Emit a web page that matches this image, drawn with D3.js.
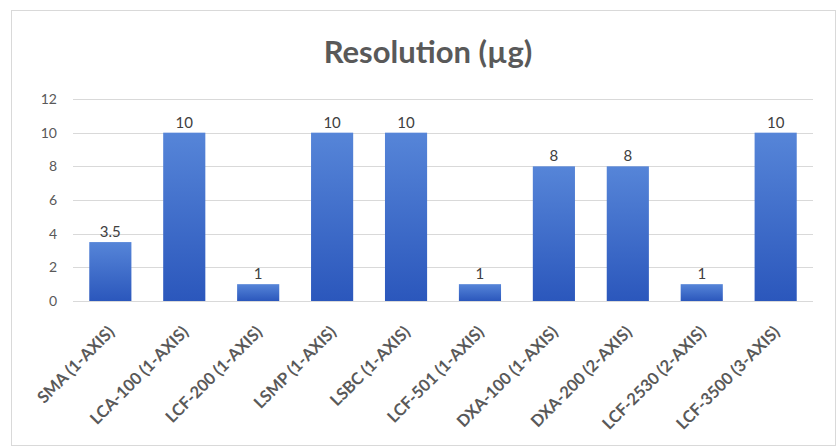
<!DOCTYPE html>
<html>
<head>
<meta charset="utf-8">
<script src="https://cdnjs.cloudflare.com/ajax/libs/d3/7.8.5/d3.min.js"></script>
<style>
  body { margin: 0; background: #fff; }
  #vis { width: 837px; height: 448px; }
  .axis text { fill: #595959; font-family: Lato, "Open Sans", sans-serif; }
</style>
</head>
<body>
<div id="vis"></div>
<script>
var categories = ['SMA (1-AXIS)', 'LCA-100 (1-AXIS)', 'LCF-200 (1-AXIS)', 'LSMP (1-AXIS)', 'LSBC (1-AXIS)',
    'LCF-501 (1-AXIS)', 'DXA-100 (1-AXIS)', 'DXA-200 (2-AXIS)', 'LCF-2530 (2-AXIS)', 'LCF-3500 (3-AXIS)'];
var values = [3.5, 10, 1, 10, 10, 1, 8, 8, 1, 10];
var y_ticks = [0, 2, 4, 6, 8, 10, 12];

var width = 837, height = 448;
var margin = { top: 99, bottom: 147, left: 73, right: 24 };

var svg = d3.select('#vis')
    .append('svg')
    .attr('width', width)
    .attr('height', height);

// chart frame
svg.append('rect')
    .attr('x', 11.5).attr('y', 10.5)
    .attr('width', 824).attr('height', 435)
    .attr('fill', '#fff')
    .attr('stroke', '#d9d9d9');

var grad = svg.append('defs').append('linearGradient')
    .attr('id', 'barfill')
    .attr('x1', 0).attr('y1', 0).attr('x2', 0).attr('y2', 1);
grad.append('stop').attr('offset', '0%').attr('stop-color', '#5685d8');
grad.append('stop').attr('offset', '100%').attr('stop-color', '#2b57bc');

svg.append('text')
    .attr('x', 428)
    .attr('y', 63)
    .attr('text-anchor', 'middle')
    .attr('fill', '#595959')
    .style('font-family', 'Lato, "Open Sans", sans-serif')
    .style('font-size', '31px')
    .style('font-weight', 'bold')
    .text('Resolution (µg)');

var pw = width - margin.left - margin.right;
var ph = height - margin.top - margin.bottom;

var g = svg.append('g')
    .attr('transform', 'translate(' + margin.left + ',' + margin.top + ')');

var x_scale = d3.scaleBand()
    .domain(categories)
    .range([0, pw])
    .paddingInner(0.43)
    .paddingOuter(0.22);

var y_scale = d3.scaleLinear()
    .domain([0, 12])
    .range([ph, 0]);

// gridlines
g.selectAll('.grid')
    .data(y_ticks)
    .enter()
    .append('line')
    .attr('class', 'grid')
    .attr('x1', 0).attr('x2', pw)
    .attr('y1', function (d) { return Math.round(y_scale(d)) + 0.5; })
    .attr('y2', function (d) { return Math.round(y_scale(d)) + 0.5; })
    .attr('stroke', '#d9d9d9');

var y_axis = d3.axisLeft(y_scale).tickValues(y_ticks).tickSize(0).tickPadding(16);
g.append('g')
    .attr('class', 'y axis')
    .call(y_axis)
    .call(function (s) { s.select('.domain').remove(); })
    .selectAll('text')
    .style('font-size', '14px');

g.selectAll('.bar')
    .data(values)
    .enter()
    .append('rect')
    .attr('class', 'bar')
    .attr('x', function (d, i) { return x_scale(categories[i]); })
    .attr('width', x_scale.bandwidth())
    .attr('y', function (d) { return y_scale(d); })
    .attr('height', function (d) { return ph - y_scale(d); })
    .attr('fill', 'url(#barfill)');

g.selectAll('.label')
    .data(values)
    .enter()
    .append('text')
    .attr('class', 'label')
    .attr('x', function (d, i) { return x_scale(categories[i]) + x_scale.bandwidth() / 2; })
    .attr('y', function (d) { return y_scale(d) - 5; })
    .attr('text-anchor', 'middle')
    .attr('fill', '#404040')
    .style('font-family', 'Lato, "Open Sans", sans-serif')
    .style('font-size', '15px')
    .text(function (d) { return d; });

var x_axis = d3.axisBottom(x_scale).tickSize(0).tickPadding(0);
g.append('g')
    .attr('class', 'x axis')
    .attr('transform', 'translate(0,' + ph + ')')
    .call(x_axis)
    .call(function (s) { s.select('.domain').remove(); })
    .selectAll('text')
    .attr('text-anchor', 'end')
    .attr('dy', '0.35em')
    .attr('transform', 'translate(1,28) rotate(-45)')
    .style('font-size', '16.5px')
    .style('font-weight', 'bold');
</script>
</body>
</html>
